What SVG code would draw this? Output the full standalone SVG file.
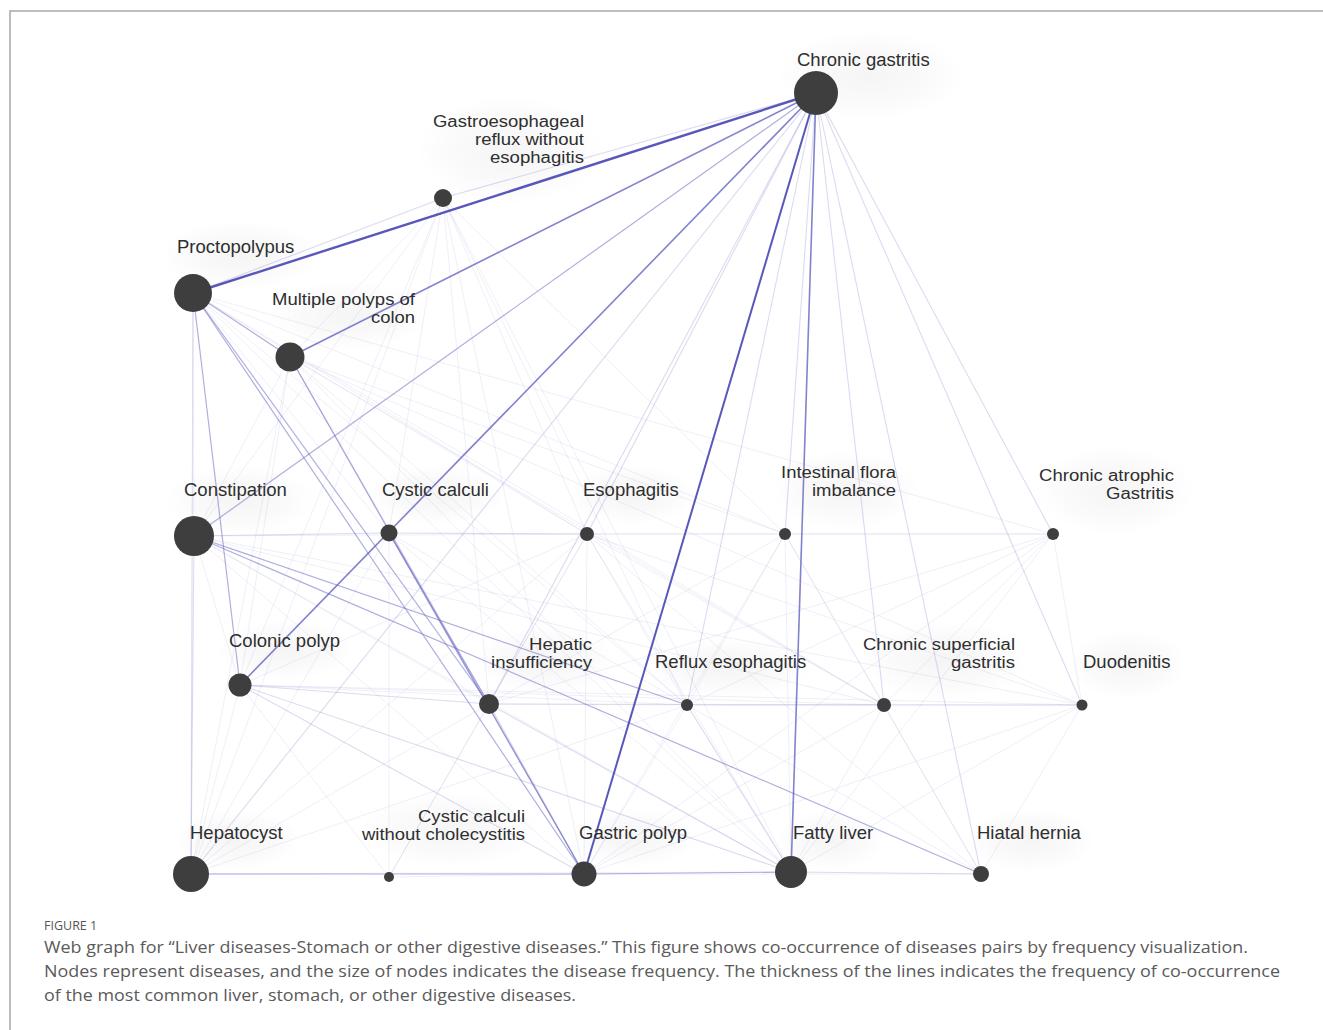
<svg xmlns="http://www.w3.org/2000/svg" width="1323" height="1030" viewBox="0 0 1323 1030">
<defs>
<radialGradient id="halo" cx="50%" cy="50%" r="50%">
<stop offset="0" stop-color="#000" stop-opacity="0.04"/>
<stop offset="0.6" stop-color="#000" stop-opacity="0.02"/>
<stop offset="1" stop-color="#000" stop-opacity="0"/>
</radialGradient>
</defs>
<style>
.e1{stroke:#4646b2;stroke-width:2.4;opacity:.9;fill:none}
.e2{stroke:#5858be;stroke-width:1.6;opacity:.75;fill:none}
.e3{stroke:#6e6ec4;stroke-width:1.2;opacity:.55;fill:none}
.e4{stroke:#8888d0;stroke-width:1.1;opacity:.3;fill:none}
.e5{stroke:#9c9cd6;stroke-width:1;opacity:.16;fill:none}
.n{fill:#3e3e3e}
.lb{font-family:"Liberation Sans",Arial,sans-serif;font-size:18.5px;fill:#2e2e2e}
.m{font-family:"Liberation Sans",Arial,sans-serif;font-size:16px;fill:#2e2e2e;text-anchor:end}
.cap{font-family:"Open Sans","Liberation Sans",sans-serif;font-size:17px;fill:#5a5a5a}
.fig{font-family:"Open Sans","Liberation Sans",sans-serif;font-size:12.5px;fill:#555}
.h{fill:url(#halo)}
</style>
<rect width="1323" height="1030" fill="#fff"/>
<path d="M10 1030 V11 H1323" fill="none" stroke="#a8a8a8" stroke-width="1.5"/>
<g id="halos">
<ellipse class="h" cx="870" cy="75" rx="95" ry="45"/>
<ellipse class="h" cx="510" cy="150" rx="95" ry="55"/>
<ellipse class="h" cx="240" cy="255" rx="80" ry="35"/>
<ellipse class="h" cx="350" cy="315" rx="80" ry="35"/>
<ellipse class="h" cx="240" cy="500" rx="75" ry="35"/>
<ellipse class="h" cx="435" cy="495" rx="70" ry="30"/>
<ellipse class="h" cx="632" cy="495" rx="65" ry="30"/>
<ellipse class="h" cx="845" cy="490" rx="75" ry="40"/>
<ellipse class="h" cx="1115" cy="490" rx="80" ry="45"/>
<ellipse class="h" cx="285" cy="650" rx="70" ry="30"/>
<ellipse class="h" cx="545" cy="660" rx="70" ry="35"/>
<ellipse class="h" cx="730" cy="668" rx="85" ry="30"/>
<ellipse class="h" cx="945" cy="660" rx="85" ry="40"/>
<ellipse class="h" cx="1128" cy="665" rx="60" ry="35"/>
<ellipse class="h" cx="237" cy="840" rx="65" ry="30"/>
<ellipse class="h" cx="450" cy="830" rx="90" ry="38"/>
<ellipse class="h" cx="632" cy="838" rx="65" ry="30"/>
<ellipse class="h" cx="830" cy="840" rx="55" ry="30"/>
<ellipse class="h" cx="1030" cy="840" rx="65" ry="32"/>
</g>
<g id="connectors">
<line class="e5" x1="443" y1="198" x2="290" y2="357"/>
<line class="e5" x1="443" y1="198" x2="194" y2="536"/>
<line class="e5" x1="443" y1="198" x2="389" y2="533"/>
<line class="e5" x1="443" y1="198" x2="587" y2="534"/>
<line class="e5" x1="443" y1="198" x2="240" y2="685"/>
<line class="e5" x1="443" y1="198" x2="489" y2="704"/>
<line class="e5" x1="443" y1="198" x2="687" y2="705"/>
<line class="e5" x1="443" y1="198" x2="191" y2="874"/>
<line class="e5" x1="443" y1="198" x2="584" y2="874"/>
<line class="e5" x1="443" y1="198" x2="791" y2="872"/>
<line class="e5" x1="443" y1="198" x2="785" y2="534"/>
<line class="e5" x1="193" y1="293" x2="194" y2="536"/>
<line class="e5" x1="193" y1="293" x2="389" y2="533"/>
<line class="e5" x1="193" y1="293" x2="587" y2="534"/>
<line class="e5" x1="193" y1="293" x2="687" y2="705"/>
<line class="e5" x1="193" y1="293" x2="791" y2="872"/>
<line class="e5" x1="193" y1="293" x2="884" y2="705"/>
<line class="e5" x1="193" y1="293" x2="785" y2="534"/>
<line class="e5" x1="193" y1="293" x2="1053" y2="534"/>
<line class="e5" x1="290" y1="357" x2="194" y2="536"/>
<line class="e5" x1="290" y1="357" x2="587" y2="534"/>
<line class="e5" x1="290" y1="357" x2="687" y2="705"/>
<line class="e5" x1="290" y1="357" x2="884" y2="705"/>
<line class="e5" x1="290" y1="357" x2="791" y2="872"/>
<line class="e5" x1="290" y1="357" x2="191" y2="874"/>
<line class="e5" x1="290" y1="357" x2="240" y2="685"/>
<line class="e5" x1="290" y1="357" x2="785" y2="534"/>
<line class="e5" x1="290" y1="357" x2="1082" y2="705"/>
<line class="e5" x1="194" y1="536" x2="240" y2="685"/>
<line class="e5" x1="194" y1="536" x2="584" y2="874"/>
<line class="e5" x1="194" y1="536" x2="791" y2="872"/>
<line class="e5" x1="194" y1="536" x2="489" y2="704"/>
<line class="e5" x1="194" y1="536" x2="587" y2="534"/>
<line class="e5" x1="194" y1="536" x2="884" y2="705"/>
<line class="e5" x1="194" y1="536" x2="1082" y2="705"/>
<line class="e5" x1="389" y1="533" x2="240" y2="685"/>
<line class="e5" x1="389" y1="533" x2="191" y2="874"/>
<line class="e5" x1="389" y1="533" x2="791" y2="872"/>
<line class="e5" x1="389" y1="533" x2="687" y2="705"/>
<line class="e5" x1="389" y1="533" x2="389" y2="877"/>
<line class="e5" x1="587" y1="534" x2="785" y2="534"/>
<line class="e5" x1="587" y1="534" x2="1053" y2="534"/>
<line class="e5" x1="587" y1="534" x2="489" y2="704"/>
<line class="e5" x1="587" y1="534" x2="687" y2="705"/>
<line class="e5" x1="587" y1="534" x2="584" y2="874"/>
<line class="e5" x1="587" y1="534" x2="791" y2="872"/>
<line class="e5" x1="587" y1="534" x2="884" y2="705"/>
<line class="e5" x1="587" y1="534" x2="191" y2="874"/>
<line class="e5" x1="587" y1="534" x2="240" y2="685"/>
<line class="e5" x1="587" y1="534" x2="1082" y2="705"/>
<line class="e5" x1="587" y1="534" x2="981" y2="874"/>
<line class="e5" x1="587" y1="534" x2="389" y2="877"/>
<line class="e5" x1="785" y1="534" x2="1053" y2="534"/>
<line class="e5" x1="785" y1="534" x2="687" y2="705"/>
<line class="e5" x1="785" y1="534" x2="584" y2="874"/>
<line class="e5" x1="785" y1="534" x2="791" y2="872"/>
<line class="e5" x1="785" y1="534" x2="489" y2="704"/>
<line class="e5" x1="785" y1="534" x2="884" y2="705"/>
<line class="e5" x1="785" y1="534" x2="981" y2="874"/>
<line class="e5" x1="1053" y1="534" x2="884" y2="705"/>
<line class="e5" x1="1053" y1="534" x2="1082" y2="705"/>
<line class="e5" x1="1053" y1="534" x2="791" y2="872"/>
<line class="e5" x1="1053" y1="534" x2="584" y2="874"/>
<line class="e5" x1="1053" y1="534" x2="687" y2="705"/>
<line class="e5" x1="1053" y1="534" x2="489" y2="704"/>
<line class="e5" x1="240" y1="685" x2="687" y2="705"/>
<line class="e5" x1="240" y1="685" x2="884" y2="705"/>
<line class="e5" x1="240" y1="685" x2="191" y2="874"/>
<line class="e5" x1="240" y1="685" x2="389" y2="877"/>
<line class="e5" x1="240" y1="685" x2="1082" y2="705"/>
<line class="e5" x1="489" y1="704" x2="687" y2="705"/>
<line class="e5" x1="489" y1="704" x2="884" y2="705"/>
<line class="e5" x1="489" y1="704" x2="191" y2="874"/>
<line class="e5" x1="489" y1="704" x2="389" y2="877"/>
<line class="e5" x1="489" y1="704" x2="1082" y2="705"/>
<line class="e5" x1="687" y1="705" x2="884" y2="705"/>
<line class="e5" x1="687" y1="705" x2="1082" y2="705"/>
<line class="e5" x1="687" y1="705" x2="584" y2="874"/>
<line class="e5" x1="687" y1="705" x2="981" y2="874"/>
<line class="e5" x1="687" y1="705" x2="191" y2="874"/>
<line class="e5" x1="884" y1="705" x2="1082" y2="705"/>
<line class="e5" x1="884" y1="705" x2="584" y2="874"/>
<line class="e5" x1="884" y1="705" x2="791" y2="872"/>
<line class="e5" x1="884" y1="705" x2="981" y2="874"/>
<line class="e5" x1="1082" y1="705" x2="791" y2="872"/>
<line class="e5" x1="1082" y1="705" x2="584" y2="874"/>
<line class="e5" x1="1082" y1="705" x2="981" y2="874"/>
<line class="e5" x1="191" y1="874" x2="791" y2="872"/>
<line class="e5" x1="389" y1="877" x2="584" y2="874"/>
<line class="e5" x1="584" y1="874" x2="981" y2="874"/>
<line class="e4" x1="816" y1="93" x2="191" y2="874"/>
<line class="e4" x1="816" y1="93" x2="1082" y2="705"/>
<line class="e4" x1="816" y1="93" x2="981" y2="874"/>
<line class="e4" x1="816" y1="93" x2="489" y2="704"/>
<line class="e4" x1="816" y1="93" x2="587" y2="534"/>
<line class="e4" x1="816" y1="93" x2="785" y2="534"/>
<line class="e4" x1="816" y1="93" x2="687" y2="705"/>
<line class="e4" x1="816" y1="93" x2="884" y2="705"/>
<line class="e4" x1="816" y1="93" x2="443" y2="198"/>
<line class="e4" x1="816" y1="93" x2="1053" y2="534"/>
<line class="e4" x1="193" y1="293" x2="191" y2="874"/>
<line class="e4" x1="194" y1="536" x2="191" y2="874"/>
<line class="e4" x1="489" y1="704" x2="584" y2="874"/>
<line class="e4" x1="290" y1="357" x2="489" y2="704"/>
<line class="e4" x1="240" y1="685" x2="584" y2="874"/>
<line class="e4" x1="240" y1="685" x2="489" y2="704"/>
<line class="e4" x1="791" y1="872" x2="981" y2="874"/>
<line class="e4" x1="489" y1="704" x2="791" y2="872"/>
<line class="e4" x1="240" y1="685" x2="791" y2="872"/>
<line class="e4" x1="687" y1="705" x2="791" y2="872"/>
<line class="e4" x1="389" y1="533" x2="587" y2="534"/>
<line class="e4" x1="194" y1="536" x2="389" y2="533"/>
<line class="e4" x1="193" y1="293" x2="443" y2="198"/>
<line class="e3" x1="816" y1="93" x2="194" y2="536"/>
<line class="e3" x1="193" y1="293" x2="290" y2="357"/>
<line class="e3" x1="193" y1="293" x2="240" y2="685"/>
<line class="e3" x1="193" y1="293" x2="489" y2="704"/>
<line class="e3" x1="193" y1="293" x2="584" y2="874"/>
<line class="e3" x1="290" y1="357" x2="584" y2="874"/>
<line class="e3" x1="389" y1="533" x2="584" y2="874"/>
<line class="e3" x1="389" y1="533" x2="489" y2="704"/>
<line class="e3" x1="194" y1="536" x2="981" y2="874"/>
<line class="e3" x1="194" y1="536" x2="687" y2="705"/>
<line class="e3" x1="191" y1="874" x2="584" y2="874"/>
<line class="e3" x1="584" y1="874" x2="791" y2="872"/>
<line class="e2" x1="816" y1="93" x2="290" y2="357"/>
<line class="e2" x1="816" y1="93" x2="240" y2="685"/>
<line class="e2" x1="816" y1="93" x2="791" y2="872"/>
<line class="e1" x1="816" y1="93" x2="193" y2="293"/>
<line class="e1" x1="816" y1="93" x2="584" y2="874" style="stroke-width:2"/>
</g>
<g id="node-chronic-gastritis"><circle class="n" cx="816" cy="93" r="22"/><text class="lb" x="797" y="66">Chronic gastritis</text></g>
<g id="node-gerd"><circle class="n" cx="443" cy="198" r="9"/>
<text class="m" x="584" y="127" textLength="151" lengthAdjust="spacingAndGlyphs">Gastroesophageal</text>
<text class="m" x="584" y="145" textLength="109" lengthAdjust="spacingAndGlyphs">reflux without</text>
<text class="m" x="584" y="163" textLength="94" lengthAdjust="spacingAndGlyphs">esophagitis</text></g>
<g id="node-proctopolypus"><circle class="n" cx="193" cy="293" r="19"/><text class="lb" x="177" y="253">Proctopolypus</text></g>
<g id="node-multiple-polyps"><circle class="n" cx="290" cy="357" r="14.5"/>
<text class="m" x="415" y="305" textLength="143" lengthAdjust="spacingAndGlyphs">Multiple polyps of</text>
<text class="m" x="415" y="323" textLength="44" lengthAdjust="spacingAndGlyphs">colon</text></g>
<g id="node-constipation"><circle class="n" cx="194" cy="536" r="20"/><text class="lb" x="184" y="496">Constipation</text></g>
<g id="node-cystic-calculi"><circle class="n" cx="389" cy="533" r="8.5"/><text class="lb" x="382" y="496">Cystic calculi</text></g>
<g id="node-esophagitis"><circle class="n" cx="587" cy="534" r="7"/><text class="lb" x="583" y="496">Esophagitis</text></g>
<g id="node-intestinal-flora"><circle class="n" cx="785" cy="534" r="6"/>
<text class="m" x="896" y="478" textLength="115" lengthAdjust="spacingAndGlyphs">Intestinal flora</text>
<text class="m" x="896" y="496" textLength="84" lengthAdjust="spacingAndGlyphs">imbalance</text></g>
<g id="node-chronic-atrophic"><circle class="n" cx="1053" cy="534" r="6"/>
<text class="m" x="1174" y="481" textLength="135" lengthAdjust="spacingAndGlyphs">Chronic atrophic</text>
<text class="m" x="1174" y="499" textLength="68" lengthAdjust="spacingAndGlyphs">Gastritis</text></g>
<g id="node-colonic-polyp"><circle class="n" cx="240" cy="685" r="11.5"/><text class="lb" x="229" y="647">Colonic polyp</text></g>
<g id="node-hepatic-insufficiency"><circle class="n" cx="489" cy="704" r="10"/>
<text class="m" x="592" y="650" textLength="63" lengthAdjust="spacingAndGlyphs">Hepatic</text>
<text class="m" x="592" y="668" textLength="101" lengthAdjust="spacingAndGlyphs">insufficiency</text></g>
<g id="node-reflux-esophagitis"><circle class="n" cx="687" cy="705" r="6"/><text class="lb" x="655" y="668">Reflux esophagitis</text></g>
<g id="node-chronic-superficial"><circle class="n" cx="884" cy="705" r="7"/>
<text class="m" x="1015" y="650" textLength="152" lengthAdjust="spacingAndGlyphs">Chronic superficial</text>
<text class="m" x="1015" y="668" textLength="64" lengthAdjust="spacingAndGlyphs">gastritis</text></g>
<g id="node-duodenitis"><circle class="n" cx="1082" cy="705" r="5.5"/><text class="lb" x="1083" y="668">Duodenitis</text></g>
<g id="node-hepatocyst"><circle class="n" cx="191" cy="874" r="18"/><text class="lb" x="190" y="839">Hepatocyst</text></g>
<g id="node-cystic-calculi-wo"><circle class="n" cx="389" cy="877" r="5"/>
<text class="m" x="525" y="822" textLength="107" lengthAdjust="spacingAndGlyphs">Cystic calculi</text>
<text class="m" x="525" y="840" textLength="163" lengthAdjust="spacingAndGlyphs">without cholecystitis</text></g>
<g id="node-gastric-polyp"><circle class="n" cx="584" cy="874" r="12.5"/><text class="lb" x="579" y="839">Gastric polyp</text></g>
<g id="node-fatty-liver"><circle class="n" cx="791" cy="872" r="16"/><text class="lb" x="793" y="839">Fatty liver</text></g>
<g id="node-hiatal-hernia"><circle class="n" cx="981" cy="874" r="8"/><text class="lb" x="977" y="839">Hiatal hernia</text></g>
<g id="caption">
<text class="fig" x="44" y="930">FIGURE 1</text>
<text class="cap" x="44" y="953" textLength="1204" lengthAdjust="spacingAndGlyphs">Web graph for “Liver diseases-Stomach or other digestive diseases.” This figure shows co-occurrence of diseases pairs by frequency visualization.</text>
<text class="cap" x="44" y="977" textLength="1236" lengthAdjust="spacingAndGlyphs">Nodes represent diseases, and the size of nodes indicates the disease frequency. The thickness of the lines indicates the frequency of co-occurrence</text>
<text class="cap" x="44" y="1001" textLength="532" lengthAdjust="spacingAndGlyphs">of the most common liver, stomach, or other digestive diseases.</text>
</g>
</svg>
